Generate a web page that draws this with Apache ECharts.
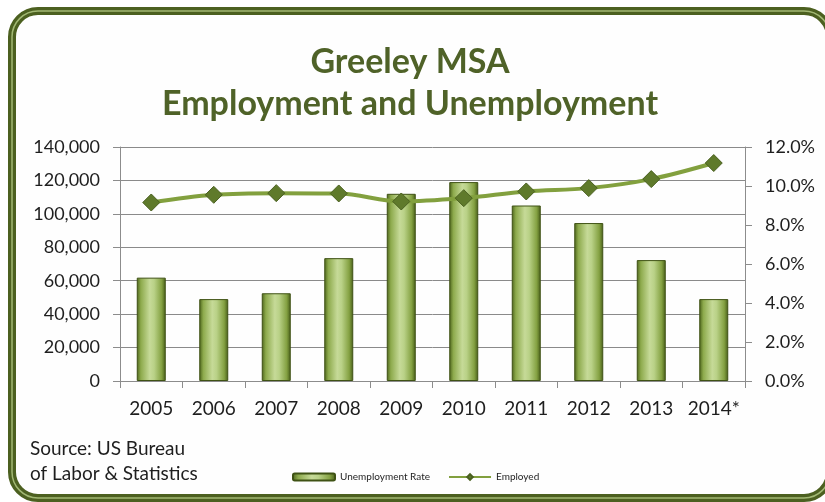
<!DOCTYPE html>
<html>
<head>
<meta charset="utf-8">
<script src="https://cdn.jsdelivr.net/npm/echarts@6/dist/echarts.min.js"></script>
<style>
  html, body { margin: 0; padding: 0; background: #ffffff; }
  #chart { width: 825px; height: 502px; }
</style>
</head>
<body>
<div id="chart"></div>
<script>
// Greeley MSA labour figures by year
const years = ['2005', '2006', '2007', '2008', '2009', '2010', '2011', '2012', '2013', '2014*'];
const unemploymentRate = [5.3, 4.2, 4.5, 6.3, 9.6, 10.2, 9.0, 8.1, 6.2, 4.2];   // percent
const employed = [106800, 111400, 112400, 112200, 107400, 109400, 113400, 115400, 120800, 130400];

// Axis scales
const employedAxis = { min: 0, max: 140000, interval: 20000 };
const rateAxis = { min: 0, max: 12, interval: 2 };

const titleLines = ['Greeley MSA', 'Employment and Unemployment'];
const sourceLines = ['Source: US Bureau', 'of Labor & Statistics'];

const FONT = 'Lato, "Open Sans", sans-serif';
const TEXT = '#1e1e1e';
const OLIVE = '#4f6228';

const chart = echarts.init(document.getElementById('chart'), null, { renderer: 'canvas' });

const barFill = new echarts.graphic.LinearGradient(0, 0, 1, 0, [
  { offset: 0, color: '#4b621a' },
  { offset: 0.14, color: '#8daa4c' },
  { offset: 0.45, color: '#c6da98' },
  { offset: 0.6, color: '#b9d187' },
  { offset: 0.86, color: '#84a142' },
  { offset: 1, color: '#455b17' }
]);

chart.setOption({
  backgroundColor: '#ffffff',
  animation: false,
  textStyle: { fontFamily: FONT },
  grid: { left: 120, right: 80, top: 147, bottom: 121, containLabel: false },
  legend: {
    left: 287, top: 467,
    itemWidth: 42, itemHeight: 7, itemGap: 18,
    textStyle: { fontSize: 10, color: TEXT, fontFamily: FONT },
    data: ['Unemployment Rate', 'Employed']
  },
  xAxis: {
    type: 'category',
    data: years,
    axisLine: { lineStyle: { color: '#8c8c8c', width: 1 } },
    axisTick: { show: true, alignWithLabel: false, length: 7, lineStyle: { color: '#8c8c8c' } },
    axisLabel: { interval: 0, fontSize: 19, color: TEXT, margin: 18, fontFamily: FONT }
  },
  yAxis: [
    {
      type: 'value',
      min: employedAxis.min, max: employedAxis.max, interval: employedAxis.interval,
      axisLine: { show: true, lineStyle: { color: '#8c8c8c' } },
      axisTick: { show: true, length: 7, lineStyle: { color: '#8c8c8c' } },
      splitLine: { show: true, lineStyle: { color: '#8a8a8a', width: 1 } },
      axisLabel: {
        fontSize: 18, color: TEXT, margin: 20, fontFamily: FONT,
        formatter: v => v.toLocaleString('en-US')
      }
    },
    {
      type: 'value',
      position: 'right',
      min: rateAxis.min, max: rateAxis.max, interval: rateAxis.interval,
      axisLine: { show: true, lineStyle: { color: '#8c8c8c' } },
      axisTick: { show: true, length: 7, lineStyle: { color: '#8c8c8c' } },
      splitLine: { show: false },
      axisLabel: {
        fontSize: 18, color: TEXT, margin: 20, fontFamily: FONT,
        formatter: v => v.toFixed(1) + '%'
      }
    }
  ],
  series: [
    {
      name: 'Unemployment Rate',
      type: 'bar',
      yAxisIndex: 1,
      data: unemploymentRate,
      barWidth: 29,
      itemStyle: { color: barFill, borderColor: '#3f5214', borderWidth: 1 },
      z: 2
    },
    {
      name: 'Employed',
      type: 'line',
      yAxisIndex: 0,
      data: employed,
      smooth: 0.35,
      symbol: 'diamond',
      symbolSize: 17,
      lineStyle: { color: '#82a03e', width: 4 },
      itemStyle: { color: '#5f7a2b', borderColor: '#4a6020', borderWidth: 1 },
      z: 3
    }
  ],
  graphic: [
    {
      type: 'rect', z: 0, silent: true,
      shape: { x: 12, y: 11, width: 818, height: 487, r: 26 },
      style: { fill: '#fefefe', stroke: '#4c6020', lineWidth: 8 }
    },
    {
      type: 'rect', z: 1, silent: true,
      shape: { x: 12, y: 11, width: 818, height: 487, r: 26 },
      style: { fill: null, stroke: '#a2b874', lineWidth: 1.5 }
    },
    {
      type: 'text', z: 5, silent: true,
      style: { text: titleLines[0], x: 410, y: 62, align: 'center', verticalAlign: 'middle',
               font: 'bold 34px ' + FONT, fill: OLIVE }
    },
    {
      type: 'text', z: 5, silent: true,
      style: { text: titleLines[1], x: 410, y: 104, align: 'center', verticalAlign: 'middle',
               font: 'bold 34px ' + FONT, fill: OLIVE }
    },
    {
      type: 'text', z: 5, silent: true,
      style: { text: sourceLines.join('\n'), x: 30, y: 436, lineHeight: 25,
               font: '19px ' + FONT, fill: TEXT }
    }
  ]
});
</script>
</body>
</html>
